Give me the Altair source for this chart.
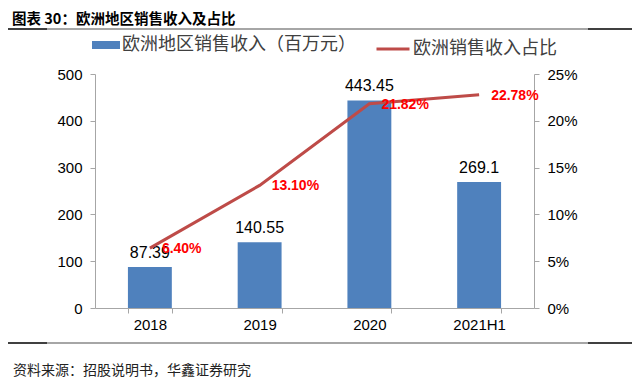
import altair as alt
import pandas as pd

# ---- data ----
categories = ["2018", "2019", "2020", "2021H1"]
revenue = [87.39, 140.55, 443.45, 269.1]
share = [0.064, 0.131, 0.2182, 0.2278]
revenue_labels = ["87.39", "140.55", "443.45", "269.1"]
share_labels = ["6.40%", "13.10%", "21.82%", "22.78%"]

bar_name = "欧洲地区销售收入（百万元）"
line_name = "欧洲销售收入占比"
title_text = "图表 30：欧洲地区销售收入及占比"
source_text = "资料来源：招股说明书，华鑫证券研究"

left_ticks = [0, 100, 200, 300, 400, 500]
right_ticks = [0, 0.05, 0.10, 0.15, 0.20, 0.25]

BAR_COLOR = "#4F81BD"
LINE_COLOR = "#BE4B48"
AXIS_GRAY = "#A6A6A6"
NUM_FONT = "Liberation Sans"
CJK_FONT = "Noto Sans CJK SC"

df = pd.DataFrame({
    "category": categories,
    "revenue": revenue,
    "share": share,
    "rev_label": revenue_labels,
    "share_label": share_labels,
    "bar_series": [bar_name] * len(categories),
    "line_series": [line_name] * len(categories),
})

x_enc = alt.X(
    "category:N",
    sort=categories,
    scale=alt.Scale(paddingInner=0.6, paddingOuter=0.3),
    axis=alt.Axis(
        title=None, labelAngle=0, tickBand="extent",
        domainColor=AXIS_GRAY, tickColor=AXIS_GRAY, tickSize=5,
        labelFontSize=15, labelFont=NUM_FONT, labelColor="#000000",
        labelPadding=4,
    ),
)

base = alt.Chart(df)

bars = base.mark_bar().encode(
    x=x_enc,
    y=alt.Y(
        "revenue:Q",
        scale=alt.Scale(domain=[0, 500], nice=False),
        axis=alt.Axis(
            title=None, values=left_ticks, grid=False, orient="left",
            domainColor=AXIS_GRAY, tickColor=AXIS_GRAY, tickSize=5,
            labelFontSize=15, labelFont=NUM_FONT, labelColor="#000000",
            labelPadding=8,
        ),
    ),
    color=alt.Color(
        "bar_series:N",
        scale=alt.Scale(domain=[bar_name], range=[BAR_COLOR]),
        legend=alt.Legend(
            title=None, orient="none", legendX=-3, legendY=-43,
            symbolType="M-1,-0.2857H1V0.2857H-1Z", symbolSize=784,
            symbolStrokeWidth=0, labelFontSize=18, labelFont=CJK_FONT,
            labelColor="#404040", labelOffset=2, padding=0, labelLimit=400,
        ),
    ),
)

bar_text = base.mark_text(
    baseline="alphabetic", dy=-9, fontSize=16, font=NUM_FONT, color="#000000"
).encode(
    x=alt.X("category:N", sort=categories),
    y=alt.Y("revenue:Q"),
    text="rev_label:N",
)

left_group = alt.layer(bars, bar_text)

line = base.mark_line(strokeWidth=3).encode(
    x=alt.X("category:N", sort=categories),
    y=alt.Y(
        "share:Q",
        scale=alt.Scale(domain=[0, 0.25], nice=False),
        axis=alt.Axis(
            title=None, values=right_ticks, format=".0%", grid=False,
            orient="right",
            domainColor=AXIS_GRAY, tickColor=AXIS_GRAY, tickSize=5,
            labelFontSize=15, labelFont=NUM_FONT, labelColor="#000000",
            labelPadding=8,
        ),
    ),
    stroke=alt.Stroke(
        "line_series:N",
        scale=alt.Scale(domain=[line_name], range=[LINE_COLOR]),
        legend=alt.Legend(
            title=None, orient="none", legendX=280, legendY=-43,
            symbolType="stroke", symbolSize=1089, symbolStrokeWidth=3,
            labelFontSize=18, labelFont=CJK_FONT, labelColor="#404040",
            labelOffset=2, padding=0, labelLimit=400,
        ),
    ),
)

pct_text = base.mark_text(
    align="left", baseline="middle", dx=12, dy=1, fontSize=14,
    fontWeight="bold", font=NUM_FONT, color="#FF0000"
).encode(
    x=alt.X("category:N", sort=categories),
    y=alt.Y("share:Q"),
    text="share_label:N",
)

right_group = alt.layer(line, pct_text)

# ---- decorations (title, rules, source) ----
deco_df = pd.DataFrame({"title": [title_text], "source": [source_text]})
deco = alt.Chart(deco_df)

title_mark = deco.mark_text(
    align="left", baseline="middle", fontSize=14.5, fontWeight="bold",
    font=CJK_FONT, color="#000000"
).encode(text="title:N", x=alt.value(-83), y=alt.value(-54))

source_mark = deco.mark_text(
    align="left", baseline="middle", fontSize=14, font=CJK_FONT,
    color="#222222"
).encode(text="source:N", x=alt.value(-82), y=alt.value(297))

def rule(x1, x2, y, color, w):
    return deco.mark_rule(color=color, strokeWidth=w).encode(
        x=alt.value(x1), x2=alt.value(x2), y=alt.value(y)
    )

top_rules = [
    rule(-87, 537, -45, "#A6A6A6", 2),
    rule(-87, -48, -45, "#404040", 2),
    rule(493, 537, -45, "#404040", 2),
]
bottom_rules = [
    rule(-87, 537, 269, "#A6A6A6", 2),
    rule(-87, -48, 269, "#404040", 2),
    rule(493, 537, 269, "#404040", 2),
]

chart = alt.layer(
    left_group, right_group, title_mark, source_mark, *top_rules, *bottom_rules
).resolve_scale(
    y="independent"
).properties(
    width=439, height=234,
    padding={"left": 87, "top": 66, "right": 98, "bottom": 70},
    autosize=alt.AutoSizeParams(type="none"),
    background="white",
).configure_view(stroke=None)

chart.save("out.html", embed_options={"renderer": "svg", "actions": False})
